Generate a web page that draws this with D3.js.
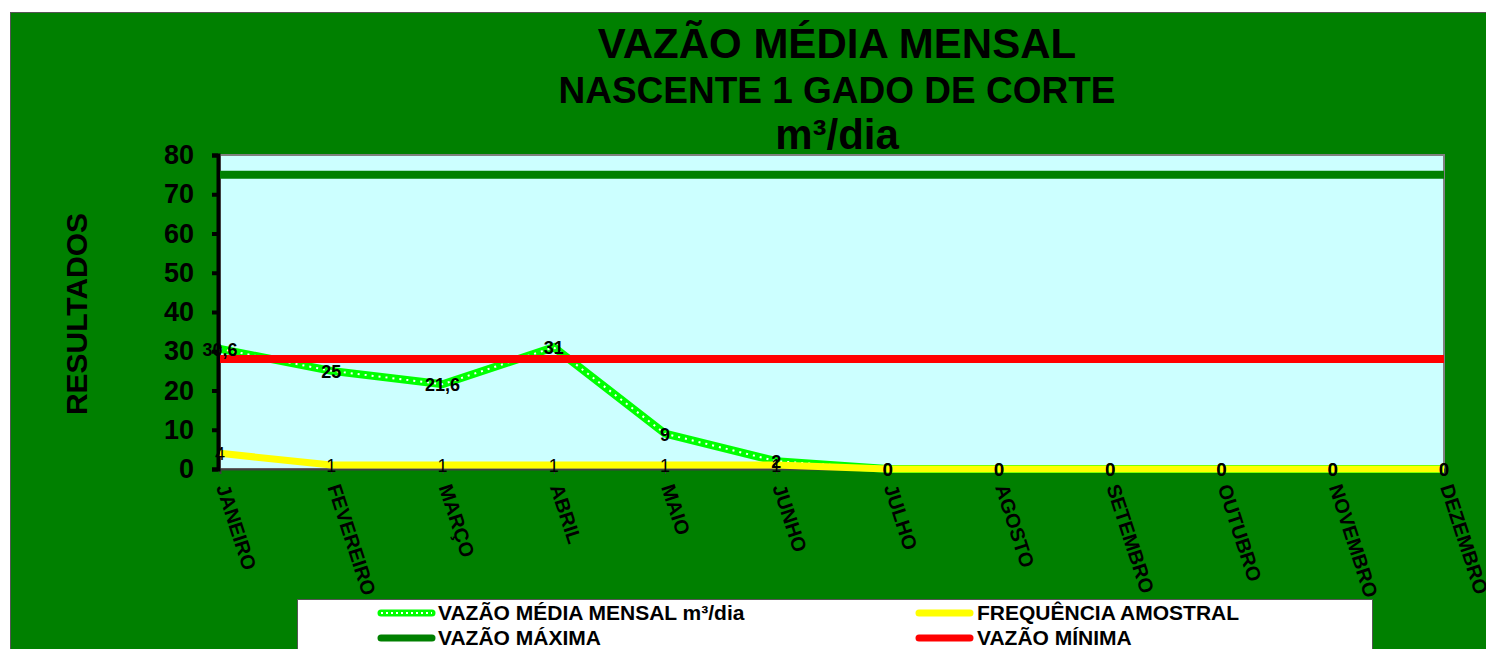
<!DOCTYPE html>
<html>
<head>
<meta charset="utf-8">
<script src="https://cdn.jsdelivr.net/npm/d3@7"></script>
<style>
  body { margin: 0; background: #fff; }
  svg { display: block; font-family: "Liberation Sans", Arial, sans-serif; font-weight: bold; }
</style>
</head>
<body>
<div id="chart"></div>
<script>
const months = ["JANEIRO", "FEVEREIRO", "MARÇO", "ABRIL", "MAIO", "JUNHO", "JULHO",
  "AGOSTO", "SETEMBRO", "OUTUBRO", "NOVEMBRO", "DEZEMBRO"];
const vazaoMedia = [30.6, 25, 21.6, 31, 9, 2, 0, 0, 0, 0, 0, 0];
const frequencia = [4, 1, 1, 1, 1, 1, 0, 0, 0, 0, 0, 0];
const vazaoMaxima = [75, 75, 75, 75, 75, 75, 75, 75, 75, 75, 75, 75];
const vazaoMinima = [28, 28, 28, 28, 28, 28, 28, 28, 28, 28, 28, 28];
const yTicks = [0, 10, 20, 30, 40, 50, 60, 70, 80];

const width = 1486, height = 649;
const plot = { left: 220, top: 155, right: 1444, bottom: 469 };

let svg = d3.select("#chart")
    .append("svg")
    .attr("width", width)
    .attr("height", height);

// outer chart area
svg.append("rect")
    .attr("x", 10.5).attr("y", 12.5)
    .attr("width", width).attr("height", height)
    .attr("fill", "#008000")
    .attr("stroke", "#555").attr("stroke-width", 1);

let x = d3.scalePoint()
    .domain(months)
    .range([plot.left, plot.right]);
let y = d3.scaleLinear()
    .domain([0, 80])
    .range([plot.bottom, plot.top]);

// plot area
svg.append("rect")
    .attr("x", plot.left).attr("y", plot.top)
    .attr("width", plot.right - plot.left).attr("height", plot.bottom - plot.top)
    .attr("fill", "#ccffff")
    .attr("stroke", "#808080").attr("stroke-width", 2);

// titles
let titles = [
    { text: "VAZÃO MÉDIA MENSAL", y: 58, size: 42 },
    { text: "NASCENTE 1 GADO DE CORTE", y: 103, size: 37 },
    { text: "m³/dia", y: 149, size: 42 }
];
svg.selectAll("text.title")
    .data(titles)
    .enter().append("text")
    .attr("class", "title")
    .attr("x", 837).attr("y", d => d.y)
    .attr("text-anchor", "middle")
    .attr("font-size", d => d.size)
    .text(d => d.text);

svg.append("text")
    .attr("transform", "translate(87,314) rotate(-90)")
    .attr("text-anchor", "middle")
    .attr("font-size", 30)
    .text("RESULTADOS");

// x axis
let xAxis = d3.axisBottom(x).tickSize(5).tickFormat("");
let gx = svg.append("g")
    .attr("transform", `translate(0,${plot.bottom})`)
    .call(xAxis);
gx.select(".domain").attr("stroke", "#404040").attr("stroke-width", 2);
gx.selectAll(".tick line").attr("stroke", "#404040").attr("stroke-width", 1);

svg.selectAll("text.month")
    .data(months)
    .enter().append("text")
    .attr("class", "month")
    .attr("transform", d => `translate(${x(d) - 4},${plot.bottom + 18}) rotate(72)`)
    .attr("font-size", 20)
    .text(d => d);

// y axis
let yAxis = d3.axisLeft(y).tickValues(yTicks).tickSize(6).tickPadding(18);
let gy = svg.append("g")
    .attr("transform", `translate(${plot.left - 2},0)`)
    .call(yAxis);
gy.select(".domain").attr("stroke", "#000").attr("stroke-width", 4);
gy.selectAll(".tick line").attr("stroke", "#000").attr("stroke-width", 4);
gy.selectAll(".tick text")
    .attr("font-family", "Liberation Sans, Arial, sans-serif")
    .attr("font-weight", "bold")
    .attr("font-size", 27)
    .attr("fill", "#000");

let line = d3.line()
    .x((d, i) => x(months[i]))
    .y(d => y(d));

// VAZÃO MÉDIA MENSAL
svg.append("path")
    .datum(vazaoMedia)
    .attr("d", line)
    .attr("fill", "none")
    .attr("stroke", "#00ff00")
    .attr("stroke-width", 8);
svg.append("path")
    .datum(vazaoMedia)
    .attr("d", line)
    .attr("fill", "none")
    .attr("stroke", "#ffffff")
    .attr("stroke-width", 2)
    .attr("stroke-dasharray", "2,5");

// FREQUÊNCIA AMOSTRAL
svg.append("path")
    .datum(frequencia)
    .attr("d", line)
    .attr("fill", "none")
    .attr("stroke", "#ffff00")
    .attr("stroke-width", 7);

// VAZÃO MÁXIMA / MÍNIMA
svg.append("path")
    .datum(vazaoMaxima)
    .attr("d", line)
    .attr("fill", "none")
    .attr("stroke", "#008000")
    .attr("stroke-width", 8);
svg.append("path")
    .datum(vazaoMinima)
    .attr("d", line)
    .attr("fill", "none")
    .attr("stroke", "#ff0000")
    .attr("stroke-width", 8);

// data labels
let fmt = v => String(v).replace(".", ",");
svg.selectAll("text.lblf")
    .data(frequencia)
    .enter().append("text")
    .attr("class", "lblf")
    .attr("x", (d, i) => x(months[i]))
    .attr("y", d => y(d) + 7)
    .attr("text-anchor", "middle")
    .attr("font-size", 18)
    .attr("font-weight", "normal")
    .text(fmt);
svg.selectAll("text.lblm")
    .data(vazaoMedia)
    .enter().append("text")
    .attr("class", "lblm")
    .attr("x", (d, i) => x(months[i]))
    .attr("y", d => y(d) + 7)
    .attr("text-anchor", "middle")
    .attr("font-size", 18)
    .text(fmt);

// legend
svg.append("rect")
    .attr("x", 297.5).attr("y", 599.5)
    .attr("width", 1075).attr("height", 80)
    .attr("fill", "#fff")
    .attr("stroke", "#555").attr("stroke-width", 1);

let legend = [
    { name: "VAZÃO MÉDIA MENSAL m³/dia", color: "#00ff00", dotted: true, x: 378, y: 613 },
    { name: "FREQUÊNCIA AMOSTRAL", color: "#ffff00", dotted: false, x: 916, y: 613 },
    { name: "VAZÃO MÁXIMA", color: "#008000", dotted: false, x: 378, y: 638 },
    { name: "VAZÃO MÍNIMA", color: "#ff0000", dotted: false, x: 916, y: 638 }
];
let lg = svg.selectAll("g.legend")
    .data(legend)
    .enter().append("g")
    .attr("class", "legend")
    .attr("transform", d => `translate(${d.x},${d.y})`);
lg.append("line")
    .attr("x1", 3).attr("x2", 54)
    .attr("stroke", d => d.color)
    .attr("stroke-width", 7)
    .attr("stroke-linecap", "round");
lg.filter(d => d.dotted).append("line")
    .attr("x1", 3).attr("x2", 54)
    .attr("stroke", "#fff")
    .attr("stroke-width", 2)
    .attr("stroke-dasharray", "2,3");
lg.append("text")
    .attr("x", d => d.x < 900 ? 60 : 61)
    .attr("y", 7)
    .attr("font-size", 21)
    .text(d => d.name);
</script>
</body>
</html>
